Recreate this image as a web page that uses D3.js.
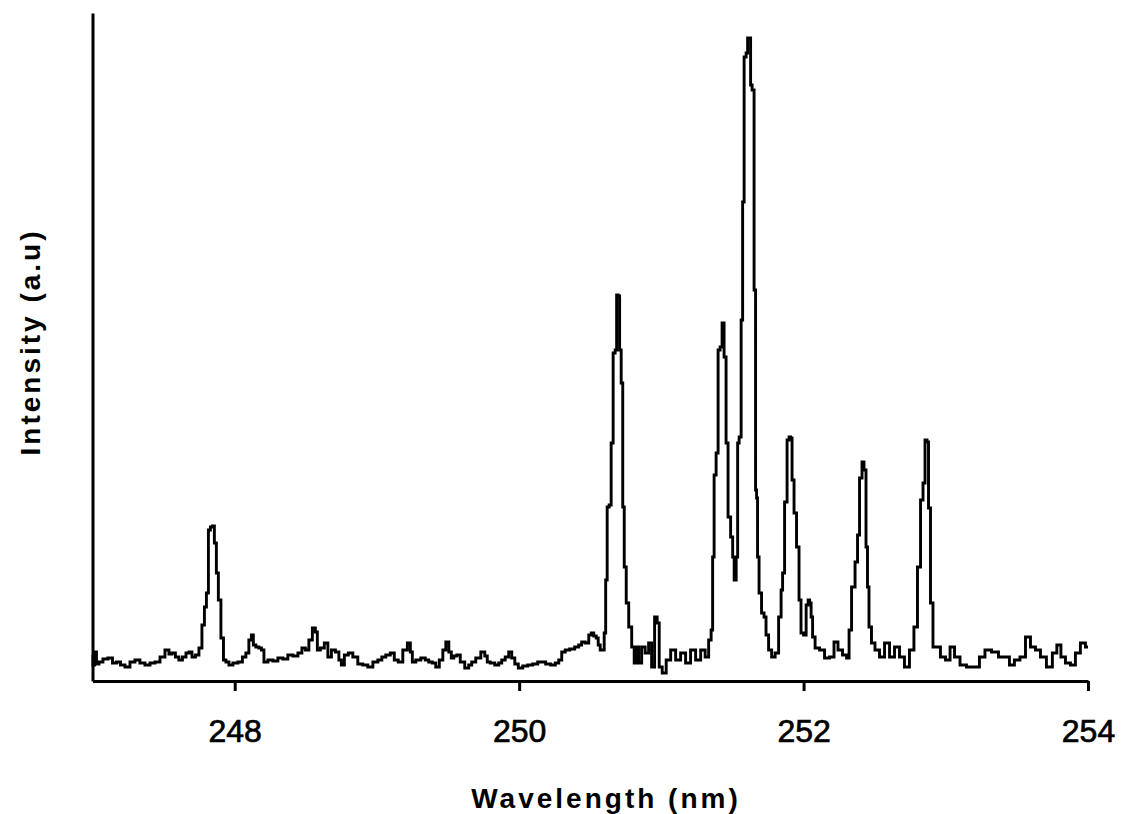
<!DOCTYPE html>
<html>
<head>
<meta charset="utf-8">
<script src="https://cdn.jsdelivr.net/npm/d3@7/dist/d3.min.js"></script>
<style>
  html, body { margin: 0; padding: 0; background: #fff; }
  svg { display: block; }
</style>
</head>
<body>
<svg id="chart" width="1123" height="814"></svg>
<script>
/* global d3 */

// Spectrum (wavelength in nm, intensity in a.u.)
const wavelength = [
  247.000, 247.007, 247.021, 247.035, 247.056, 247.091, 247.126, 247.155, 247.183, 247.211,
  247.246, 247.281, 247.316, 247.351, 247.387, 247.422, 247.457, 247.492, 247.527, 247.548,
  247.569, 247.597, 247.618, 247.647, 247.668, 247.689, 247.710, 247.738, 247.759, 247.780,
  247.794, 247.808, 247.822, 247.836, 247.850, 247.864, 247.878, 247.892, 247.914, 247.928,
  247.949, 247.970, 248.005, 248.040, 248.068, 248.089, 248.110, 248.124, 248.138, 248.160,
  248.181, 248.195, 248.216, 248.251, 248.286, 248.321, 248.356, 248.391, 248.427, 248.462,
  248.483, 248.511, 248.532, 248.560, 248.574, 248.588, 248.616, 248.644, 248.666, 248.694,
  248.722, 248.743, 248.757, 248.785, 248.813, 248.848, 248.883, 248.918, 248.954, 248.989,
  249.024, 249.045, 249.080, 249.108, 249.136, 249.164, 249.200, 249.228, 249.242, 249.256,
  249.291, 249.326, 249.354, 249.375, 249.403, 249.424, 249.453, 249.474, 249.495, 249.516,
  249.530, 249.551, 249.572, 249.600, 249.635, 249.656, 249.677, 249.713, 249.748, 249.769,
  249.783, 249.811, 249.846, 249.867, 249.888, 249.916, 249.937, 249.959, 249.980, 250.008,
  250.043, 250.078, 250.113, 250.148, 250.169, 250.204, 250.240, 250.268, 250.289, 250.310,
  250.338, 250.373, 250.408, 250.429, 250.450, 250.479, 250.500, 250.514, 250.535, 250.549,
  250.563, 250.577, 250.591, 250.605, 250.612, 250.626, 250.640, 250.654, 250.668, 250.682,
  250.689, 250.703, 250.710, 250.725, 250.732, 250.746, 250.760, 250.781, 250.802, 250.816,
  250.830, 250.851, 250.872, 250.900, 250.921, 250.942, 250.963, 250.978, 250.992, 251.020,
  251.048, 251.083, 251.118, 251.153, 251.188, 251.223, 251.259, 251.294, 251.322, 251.343,
  251.357, 251.364, 251.378, 251.392, 251.406, 251.420, 251.434, 251.448, 251.462, 251.476,
  251.498, 251.505, 251.519, 251.533, 251.540, 251.554, 251.568, 251.575, 251.589, 251.603,
  251.610, 251.624, 251.631, 251.645, 251.659, 251.666, 251.673, 251.680, 251.694, 251.715,
  251.729, 251.743, 251.765, 251.786, 251.814, 251.835, 251.849, 251.856, 251.877, 251.891,
  251.905, 251.912, 251.926, 251.940, 251.961, 251.975, 251.989, 252.011, 252.025, 252.039,
  252.046, 252.060, 252.067, 252.095, 252.130, 252.165, 252.200, 252.228, 252.256, 252.292,
  252.313, 252.327, 252.348, 252.376, 252.383, 252.404, 252.418, 252.432, 252.446, 252.453,
  252.467, 252.488, 252.516, 252.552, 252.587, 252.622, 252.657, 252.692, 252.727, 252.762,
  252.790, 252.812, 252.833, 252.847, 252.861, 252.875, 252.882, 252.903, 252.917, 252.945,
  252.980, 253.016, 253.044, 253.079, 253.121, 253.170, 253.219, 253.254, 253.297, 253.346,
  253.395, 253.430, 253.465, 253.500, 253.543, 253.578, 253.613, 253.648, 253.683, 253.732,
  253.767, 253.795, 253.824, 253.859, 253.894, 253.929, 253.964, 254.000
];

const intensity = [
  26, 16, 29, 17, 19, 22, 23, 18, 19, 16,
  14, 19, 21, 18, 16, 18, 19, 24, 31, 27,
  28, 24, 21, 24, 28, 29, 24, 26, 33, 56,
  74, 88, 151, 154, 155, 138, 108, 81, 43, 21,
  19, 16, 18, 19, 24, 28, 41, 46, 36, 34,
  33, 31, 19, 21, 20, 23, 22, 26, 25, 28,
  33, 31, 41, 53, 49, 31, 33, 38, 24, 31,
  29, 21, 16, 26, 28, 24, 17, 16, 14, 19,
  21, 24, 26, 28, 21, 19, 31, 38, 29, 19,
  21, 23, 21, 19, 18, 14, 21, 31, 39, 29,
  23, 25, 26, 19, 13, 16, 19, 23, 29, 25,
  19, 18, 16, 18, 21, 24, 29, 23, 17, 13,
  15, 16, 17, 19, 19, 17, 16, 18, 21, 29,
  31, 32, 34, 36, 39, 38, 46, 48, 45, 43,
  36, 31, 31, 48, 101, 174, 176, 238, 328, 331,
  386, 385, 331, 298, 174, 114, 78, 54, 34, 18,
  34, 18, 34, 28, 38, 14, 64, 58, 14, 8,
  21, 31, 21, 28, 18, 31, 21, 31, 24, 41,
  51, 124, 206, 228, 331, 334, 358, 324, 238, 164,
  144, 124, 101, 124, 238, 244, 361, 479, 624, 628,
  643, 643, 596, 591, 391, 191, 183, 124, 88, 68,
  64, 46, 31, 24, 28, 64, 91, 108, 179, 241,
  244, 243, 201, 168, 134, 81, 48, 46, 76, 81,
  78, 64, 44, 33, 31, 23, 24, 39, 31, 26,
  23, 51, 94, 119, 146, 203, 219, 211, 134, 94,
  54, 38, 31, 24, 38, 24, 34, 24, 14, 31,
  54, 114, 181, 198, 241, 239, 173, 78, 34, 34,
  24, 21, 34, 24, 16, 14, 14, 24, 31, 29,
  24, 24, 16, 21, 24, 44, 34, 31, 24, 14,
  28, 36, 24, 18, 16, 28, 38, 34
];

const xDomain = [247, 254];
const yDomain = [0, 668];
const xTicks = [248, 250, 252, 254];
const xTitle = 'Wavelength (nm)';
const yTitle = 'Intensity (a.u)';

// Layout
const width = 1123;
const height = 814;
const margin = { top: 13, right: 35, bottom: 133, left: 92.5 };
const fontFamily = '"Liberation Sans", Arial, Helvetica, sans-serif';

const svg = d3.select('#chart');

const x = d3.scaleLinear()
  .domain(xDomain)
  .range([margin.left, width - margin.right]);

const y = d3.scaleLinear()
  .domain(yDomain)
  .range([height - margin.bottom, margin.top]);

const points = wavelength.map((w, i) => ({ w: w, v: intensity[i] }));

// Spectrum trace
const line = d3.line()
  .x(d => x(d.w))
  .y(d => y(d.v))
  .curve(d3.curveStep);

svg.append('path')
  .datum(points)
  .attr('d', line)
  .style('fill', 'none')
  .style('stroke', '#000')
  .style('stroke-width', 2.9)
  .style('stroke-linejoin', 'miter');

// X axis
const xAxis = d3.axisBottom(x)
  .tickValues(xTicks)
  .tickFormat(d3.format('d'))
  .tickSize(10)
  .tickSizeOuter(0);

const xAxisGroup = svg.append('g')
  .attr('transform', `translate(0, ${height - margin.bottom})`)
  .call(xAxis);

xAxisGroup.selectAll('path, line')
  .style('stroke', '#000')
  .style('stroke-width', 3);

// slightly heavier than regular, like the reference digits
xAxisGroup.selectAll('text')
  .attr('y', 61)
  .attr('dy', 0)
  .style('font-family', fontFamily)
  .style('font-size', '32px')
  .style('fill', '#000')
  .style('stroke', '#000')
  .style('stroke-width', 0.7);

// Y axis (line only, no ticks)
const yAxis = d3.axisLeft(y)
  .tickValues([])
  .tickSizeOuter(0);

svg.append('g')
  .attr('transform', `translate(${margin.left}, 0)`)
  .call(yAxis)
  .selectAll('path')
  .style('stroke', '#000')
  .style('stroke-width', 3);

// Titles
svg.append('text')
  .attr('x', 606)
  .attr('y', 808)
  .attr('text-anchor', 'middle')
  .style('font-family', fontFamily)
  .style('font-size', '28px')
  .style('font-weight', 'bold')
  .style('letter-spacing', '3px')
  .text(xTitle);

svg.append('text')
  .attr('transform', 'translate(40, 342) rotate(-90)')
  .attr('text-anchor', 'middle')
  .style('font-family', fontFamily)
  .style('font-size', '28px')
  .style('font-weight', 'bold')
  .style('letter-spacing', '3px')
  .text(yTitle);
</script>
</body>
</html>
